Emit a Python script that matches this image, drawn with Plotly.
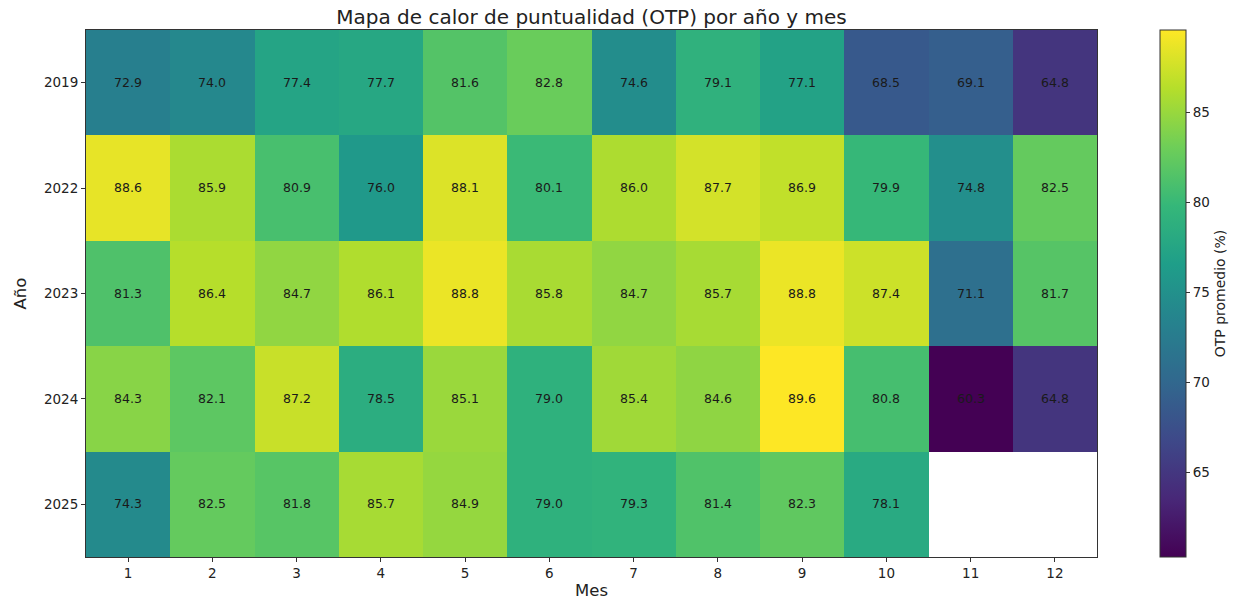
import plotly.graph_objects as go

months = [1, 2, 3, 4, 5, 6, 7, 8, 9, 10, 11, 12]
years = ["2019", "2022", "2023", "2024", "2025"]
otp_2019 = [72.9, 74.0, 77.4, 77.7, 81.6, 82.8, 74.6, 79.1, 77.1, 68.5, 69.1, 64.8]
otp_2022 = [88.6, 85.9, 80.9, 76.0, 88.1, 80.1, 86.0, 87.7, 86.9, 79.9, 74.8, 82.5]
otp_2023 = [81.3, 86.4, 84.7, 86.1, 88.8, 85.8, 84.7, 85.7, 88.8, 87.4, 71.1, 81.7]
otp_2024 = [84.3, 82.1, 87.2, 78.5, 85.1, 79.0, 85.4, 84.6, 89.6, 80.8, 60.3, 64.8]
otp_2025 = [74.3, 82.5, 81.8, 85.7, 84.9, 79.0, 79.3, 81.4, 82.3, 78.1, None, None]

z = [otp_2019, otp_2022, otp_2023, otp_2024, otp_2025]
text = [["" if v is None else f"{v:.1f}" for v in row] for row in z]
vals = [v for row in z for v in row if v is not None]

font = "DejaVu Sans"
W, H = 1231, 600
fig = go.Figure(go.Heatmap(
    z=z, x=months, y=years,
    text=text, texttemplate="%{text}",
    textfont=dict(family=font, size=12.5, color="#1a1a1a"),
    colorscale="Viridis", zmin=min(vals), zmax=max(vals),
    colorbar=dict(
        x=1.0623, xanchor="left", xref="paper",
        y=0, yanchor="bottom", len=1, lenmode="fraction", ypad=0, xpad=0,
        thickness=26, outlinewidth=1, outlinecolor="#333",
        tickvals=[65, 70, 75, 80, 85], ticks="outside", ticklen=4, tickcolor="#333",
        tickfont=dict(family=font, size=13.5, color="#222"),
        title=dict(text="OTP promedio (%)", side="right",
                   font=dict(family=font, size=14, color="#222")),
    ),
    xgap=0, ygap=0,
))

fig.update_layout(
    width=W, height=H,
    margin=dict(l=78, r=142, t=22, b=51, autoexpand=False),
    paper_bgcolor="white", plot_bgcolor="white",
    title=dict(text="Mapa de calor de puntualidad (OTP) por año y mes",
               x=0.5, xref="paper", xanchor="center",
               y=1 - 2 / H, yref="container", yanchor="top", pad=dict(t=0, b=0),
               font=dict(family=font, size=20, color="#222")),
    font=dict(family=font, color="#222"),
)
fig.update_xaxes(
    tickvals=months, ticks="outside", ticklen=4, tickcolor="#333",
    tickfont=dict(size=13.5), showline=True, linecolor="#333", linewidth=1, mirror=True,
    title=dict(text="Mes", font=dict(size=16.5), standoff=4),
    range=[0.5, 12.5], showgrid=False, zeroline=False,
)
fig.update_yaxes(
    type="category", autorange="reversed", ticks="outside", ticklen=4, tickcolor="#333",
    tickfont=dict(size=13.5), showline=True, linecolor="#333", linewidth=1, mirror=True,
    title=dict(text="Año", font=dict(size=16.5), standoff=13),
    showgrid=False, zeroline=False,
)

fig.write_html("out.html")
